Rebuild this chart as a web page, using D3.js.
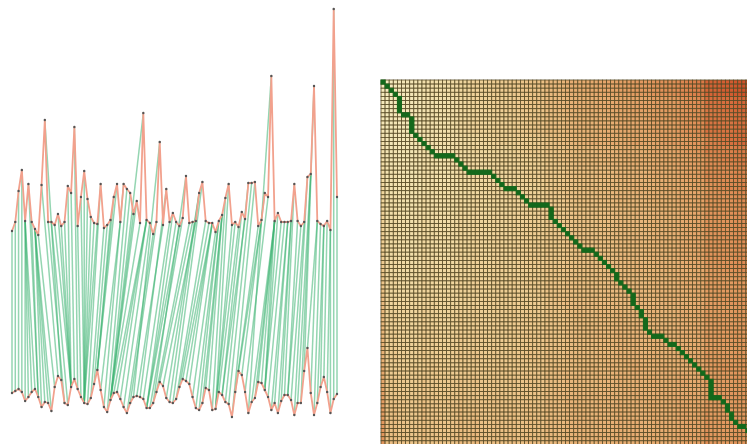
<!DOCTYPE html>
<html>
<head>
<meta charset="utf-8">
<script src="https://cdn.jsdelivr.net/npm/d3@7"></script>
<style>
  html, body { margin: 0; padding: 0; background: #fff; overflow: hidden; }
  svg { display: block; }
</style>
</head>
<body>
<svg id="chart"></svg>
<script>
// series (arbitrary units, same for both)
const topSeries = [
  9, 18, 49, 70, 19, 56, 18, 11, 5, 55,
  120, 18, 18, 15, 26, 14, 18, 54, 47, 113,
  14, 43, 69, 41, 23, 17, 16, 56, 12, 15,
  20, 43, 56, 18, 56, 51, 47, 26, 39, 17,
  127, 20, 17, 6, 18, 98, 15, 51, 18, 27,
  18, 14, 22, 64, 17, 18, 19, 47, 58, 19,
  17, 17, 8, 19, 25, 42, 56, 15, 18, 13,
  28, 21, 57, 57, 58, 14, 20, 47, 43, 164,
  19, 27, 18, 18, 18, 19, 56, 19, 14, 18,
  63, 66, 154, 19, 16, 14, 19, 10, 231, 43
];
const bottomSeries = [
  27, 29, 31, 28, 19, 23, 28, 31, 23, 13,
  18, 17, 9, 33, 44, 40, 17, 15, 33, 41,
  31, 23, 17, 16, 22, 36, 50, 30, 13, 8,
  20, 27, 28, 21, 13, 7, 17, 23, 24, 23,
  21, 12, 12, 17, 28, 38, 34, 22, 18, 17,
  21, 33, 41, 39, 36, 23, 12, 10, 17, 32,
  30, 10, 11, 28, 25, 18, 16, 3, 28, 49,
  45, 28, 7, 18, 22, 38, 37, 30, 23, 10,
  17, 7, 19, 25, 25, 20, 5, 17, 17, 49,
  72, 27, 5, 17, 33, 43, 28, 7, 21, 26
];
// warping path as steps from (0,0): D = both, R = next top point, B = next bottom point
const pathMoves =
  "DDDD" + "BBBD" + "RD" + "BBBD" + "DDDDD" + "RRRRDD" + "DD" + "RRRRR" +
  "DDDD" + "RRD" + "DDD" + "RRRR" + "DBBD" + "DDD" + "DDDDR" + "RD" +
  "DDDD" + "DBD" + "DD" + "DBB" + "DDBD" + "BB" + "DD" + "RRDD" + "RD" +
  "DDD" + "DD" + "DD" + "DB" + "BBB" + "RRD" + "DB" + "DB" + "DD" + "RD" +
  "DDBDDBDDBDDBDD";
const costColors = ["#f5ecc0", "#efd49a", "#e9b57a", "#e2945a", "#cf4f27"];

const chartElementId = "chart";
const width = 747;
const height = 444;
const series = { left: 12, right: 337, topBase: 240, bottomBase: 420 };
const matrix = { left: 381, top: 80, cell: 4.1 };

function decodePath(moves) {
  const pairs = [[0, 0]];
  let i = 0, j = 0;
  for (const m of moves) {
    if (m === "D" || m === "R") i++;
    if (m === "D" || m === "B") j++;
    pairs.push([i, j]);
  }
  return pairs;
}

function accumulatedCost(a, b) {
  const D = a.map(() => b.map(() => 0));
  for (let i = 0; i < a.length; i++) {
    for (let j = 0; j < b.length; j++) {
      const d = Math.abs(a[i] - b[j]);
      if (i === 0 && j === 0) D[i][j] = d;
      else if (i === 0) D[i][j] = d + D[i][j - 1];
      else if (j === 0) D[i][j] = d + D[i - 1][j];
      else D[i][j] = d + Math.min(D[i - 1][j - 1], D[i - 1][j], D[i][j - 1]);
    }
  }
  return D;
}

function createSvg() {
  return d3.select(`#${chartElementId}`).attr("width", width).attr("height", height);
}

function drawSeries(svg, warp) {
  const x = d3.scaleLinear().domain([0, topSeries.length - 1]).range([series.left, series.right]);
  const yTop = d3.scaleLinear().domain([0, 240]).range([series.topBase, 0]);
  const yBot = d3.scaleLinear().domain([0, 72]).range([series.bottomBase, series.bottomBase - 72]);

  const g = svg.append("g");

  g.append("g")
    .selectAll("line")
    .data(warp)
    .join("line")
    .attr("x1", (d) => x(d[0]))
    .attr("y1", (d) => yTop(topSeries[d[0]]))
    .attr("x2", (d) => x(d[1]))
    .attr("y2", (d) => yBot(bottomSeries[d[1]]))
    .attr("stroke", "#3cb371")
    .attr("stroke-opacity", 0.55)
    .attr("stroke-width", 1.5);

  const lineTop = d3.line().x((d, i) => x(i)).y((d) => yTop(d));
  const lineBot = d3.line().x((d, i) => x(i)).y((d) => yBot(d));

  [[topSeries, lineTop, yTop], [bottomSeries, lineBot, yBot]].forEach(([data, line, y]) => {
    g.append("path")
      .datum(data)
      .attr("d", line)
      .attr("fill", "none")
      .attr("stroke", "#f2a18d")
      .attr("stroke-width", 1.8)
      .attr("stroke-linejoin", "round");

    g.append("g")
      .selectAll("circle")
      .data(data)
      .join("circle")
      .attr("cx", (d, i) => x(i))
      .attr("cy", (d) => y(d))
      .attr("r", 1.2)
      .attr("fill", "#555");
  });
}

function drawMatrix(svg, warp) {
  const n = topSeries.length;
  const m = bottomSeries.length;
  const D = accumulatedCost(topSeries, bottomSeries);

  const xBand = d3.scaleBand().domain(d3.range(n)).range([matrix.left, matrix.left + n * matrix.cell]);
  const yBand = d3.scaleBand().domain(d3.range(m)).range([matrix.top, matrix.top + m * matrix.cell]);

  const cells = [];
  for (let i = 0; i < n; i++) {
    for (let j = 0; j < m; j++) cells.push({ i: i, j: j, v: D[i][j] });
  }
  const maxV = d3.max(cells.filter((c) => c.i < 90 && c.j < 90), (c) => c.v);
  const t = d3.scalePow().exponent(1.15).domain([0, maxV]).range([0, 1]).clamp(true);
  const ramp = d3.interpolateRgbBasis(costColors);

  const g = svg.append("g");

  g.append("g")
    .selectAll("rect")
    .data(cells)
    .join("rect")
    .attr("x", (d) => xBand(d.i))
    .attr("y", (d) => yBand(d.j))
    .attr("width", xBand.bandwidth())
    .attr("height", yBand.bandwidth())
    .attr("fill", (d) => ramp(t(d.v)))
    .attr("stroke", "#584b26")
    .attr("stroke-width", 0.8);

  g.append("g")
    .selectAll("rect")
    .data(warp)
    .join("rect")
    .attr("x", (d) => xBand(d[0]))
    .attr("y", (d) => yBand(d[1]))
    .attr("width", xBand.bandwidth())
    .attr("height", yBand.bandwidth())
    .attr("fill", "#14691c")
    .attr("stroke", "#14691c")
    .attr("stroke-width", 1);
}

const svg = createSvg();
const warp = decodePath(pathMoves);
drawSeries(svg, warp);
drawMatrix(svg, warp);
</script>
</body>
</html>
